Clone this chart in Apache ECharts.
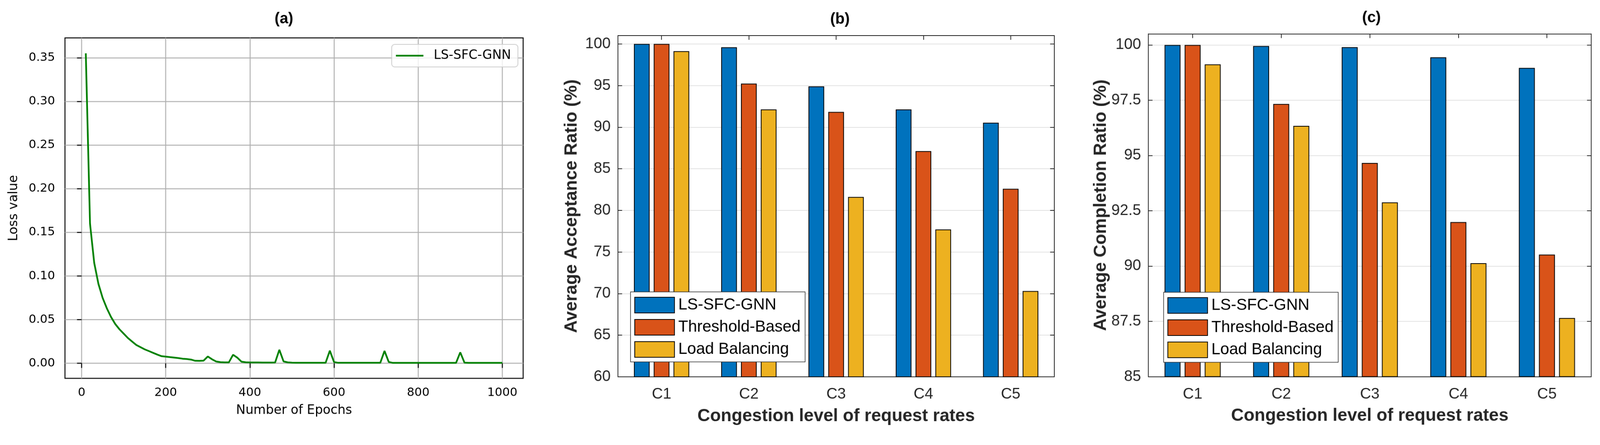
<!DOCTYPE html>
<html>
<head>
<meta charset="utf-8">
<script src="https://cdn.jsdelivr.net/npm/echarts@6/dist/echarts.min.js"></script>
<style>
html,body{margin:0;padding:0;background:#fff;overflow:hidden;}
#chart{width:4187px;height:1138px;transform-origin:0 0;}
</style>
</head>
<body>
<div id="chart"></div>
<script>
// ---------- Panel (a): training loss ----------
const epochs = [10,20,30,40,50,60,70,80,90,100,110,120,130,140,150,160,170,180,190,200,
  210,220,230,240,250,260,270,280,290,300,310,320,330,340,350,360,370,380,390,400,
  410,420,430,440,450,460,470,480,490,500,510,520,530,540,550,560,570,580,590,600,
  610,620,630,640,650,660,670,680,690,700,710,720,730,740,750,760,770,780,790,800,
  810,820,830,840,850,860,870,880,890,900,910,920,930,940,950,960,970,980,990,1000];
const lossValues = [0.355,0.160,0.115,0.091,0.075,0.063,0.053,0.045,0.039,0.034,
  0.029,0.025,0.021,0.0185,0.016,0.014,0.012,0.010,0.0082,0.0077,
  0.0071,0.0066,0.0060,0.0053,0.0049,0.0043,0.0029,0.0028,0.0031,0.0078,
  0.0046,0.0021,0.0013,0.0011,0.0011,0.0098,0.0065,0.0019,0.0012,0.0010,
  0.0010,0.0010,0.0009,0.0009,0.0009,0.0010,0.0155,0.0022,0.0011,0.0008,
  0.0007,0.0007,0.0007,0.0007,0.0007,0.0007,0.0007,0.0007,0.0145,0.0014,
  0.0006,0.0006,0.0006,0.0006,0.0006,0.0006,0.0006,0.0006,0.0006,0.0006,
  0.0006,0.0142,0.0016,0.0005,0.0005,0.0005,0.0005,0.0005,0.0005,0.0005,
  0.0005,0.0005,0.0005,0.0005,0.0005,0.0005,0.0005,0.0005,0.0005,0.0126,
  0.0008,0.0005,0.0005,0.0005,0.0005,0.0005,0.0005,0.0005,0.0005,0.0005];
const lossTicksX = [0,200,400,600,800,1000];
const lossTicksY = [0,0.05,0.10,0.15,0.20,0.25,0.30,0.35];

// ---------- Panels (b) and (c): bar charts ----------
const categories = ['C1','C2','C3','C4','C5'];
const seriesNames = ['LS-SFC-GNN','Threshold-Based','Load Balancing'];
const acceptLS = [100, 99.6, 94.9, 92.13, 90.53];
const acceptTB = [100, 95.23, 91.83, 87.12, 82.59];
const acceptLB = [99.13, 92.13, 81.62, 77.71, 70.31];
const completeLS = [100, 99.95, 99.9, 99.44, 98.96];
const completeTB = [100, 97.33, 94.66, 91.99, 90.52];
const completeLB = [99.12, 96.34, 92.88, 90.13, 87.65];
const barColors = ['#0072BD','#D95319','#EDB120'];

const MAT = "'Liberation Sans', Arial, Helvetica, sans-serif";
const MPL = "'DejaVu Sans', sans-serif";
const AX = '#262626';

// fit the 4187x1138 drawing into the viewport if the viewport is smaller
(function fit(){
  const el = document.getElementById('chart');
  const s = Math.min(1, (window.innerWidth || 4187) / 4187, (window.innerHeight || 1138) / 1138);
  if (s < 1) el.style.transform = 'scale(' + s + ')';
})();

const chart = echarts.init(document.getElementById('chart'), null, {renderer:'canvas', width:4187, height:1138});

function barXAxis(grid, top, name) {
  return {
    type:'category', gridIndex:grid, data:categories, position: top ? 'top' : 'bottom',
    boundaryGap:true,
    axisLine:{show:true, lineStyle:{color:AX, width:2}},
    axisTick:{show:true, inside:true, length:11, alignWithLabel:true, lineStyle:{color:AX, width:2}},
    axisLabel:{show:!top, fontFamily:MAT, fontSize:40, color:AX, margin:26},
    splitLine:{show:false},
    name: top ? '' : name, nameLocation:'middle', nameGap:80,
    nameTextStyle:{fontFamily:MAT, fontSize:46, fontWeight:'bold', color:AX}
  };
}
function barYAxis(grid, right, min, max, interval, name) {
  return {
    type:'value', gridIndex:grid, position: right ? 'right' : 'left',
    min:min, max:max, interval:interval,
    axisLine:{show:true, lineStyle:{color:AX, width:2}},
    axisTick:{show:true, inside:true, length:11, lineStyle:{color:AX, width:2}},
    axisLabel:{show:!right, fontFamily:MAT, fontSize:40, color:AX, margin:19, showMaxLabel:false,
      formatter: v => String(v)},
    splitLine:{show:!right, lineStyle:{color:'#e2e2e2', width:2}},
    name: right ? '' : name, nameLocation:'middle', nameGap:98, nameRotate:90,
    nameTextStyle:{fontFamily:MAT, fontSize:46, fontWeight:'bold', color:AX}
  };
}
function barSeries(name, idx, xi, yi, values) {
  return {
    type:'bar', name:name, xAxisIndex:xi, yAxisIndex:yi, data:values,
    barWidth:'18%', barGap:'26%', clip:true,
    itemStyle:{color:barColors[idx], borderColor:'#000', borderWidth:2}
  };
}
function barLegend(left, top) {
  return {
    data:seriesNames, left:left, top:top, orient:'vertical', icon:'rect',
    itemWidth:104, itemHeight:41, itemGap:15, selectedMode:false,
    itemStyle:{borderColor:'#000', borderWidth:2},
    textStyle:{fontFamily:MAT, fontSize:42, color:'#000', padding:[0,0,0,5]},
    padding:[13,12,11,10], borderColor:AX, borderWidth:1.5, backgroundColor:'#fff'
  };
}

const option = {
  animation:false,
  backgroundColor:'#fff',
  grid:[
    {left:170, top:99, width:1199, height:890, containLabel:false, outerBoundsMode:'none',
     show:true, borderColor:'#000', borderWidth:2.5, backgroundColor:'transparent'},
    {left:1617, top:93, width:1142, height:892, containLabel:false, outerBoundsMode:'none'},
    {left:3005, top:88.5, width:1159, height:896, containLabel:false, outerBoundsMode:'none'}
  ],
  xAxis:[
    {
      type:'value', gridIndex:0, min:-39.5, max:1049.5, splitNumber:5,
      axisLine:{show:false},
      axisTick:{show:true, inside:false, length:12, lineStyle:{color:'#000', width:2.5}, customValues:lossTicksX},
      axisLabel:{customValues:lossTicksX, fontFamily:MPL, fontSize:31, color:'#000', margin:22,
        formatter: v => String(v)},
      splitLine:{show:true, lineStyle:{color:'#b0b0b0', width:2.5}},
      name:'Number of Epochs', nameLocation:'middle', nameGap:68,
      nameTextStyle:{fontFamily:MPL, fontSize:33, color:'#000'}
    },
    barXAxis(1, false, 'Congestion level of request rates'),
    barXAxis(1, true, ''),
    barXAxis(2, false, 'Congestion level of request rates'),
    barXAxis(2, true, '')
  ],
  yAxis:[
    {
      type:'value', gridIndex:0, min:-0.0172, max:0.3727, splitNumber:8,
      axisLine:{show:false},
      axisTick:{show:true, inside:false, length:12, lineStyle:{color:'#000', width:2.5}, customValues:lossTicksY},
      axisLabel:{customValues:lossTicksY, fontFamily:MPL, fontSize:31, color:'#000', margin:26,
        formatter: v => v.toFixed(2)},
      splitLine:{show:true, lineStyle:{color:'#b0b0b0', width:2.5}},
      name:'Loss value', nameLocation:'middle', nameGap:117, nameRotate:90,
      nameTextStyle:{fontFamily:MPL, fontSize:33, color:'#000'}
    },
    barYAxis(1, false, 60, 101, 5, 'Average Acceptance Ratio (%)'),
    barYAxis(1, true, 60, 101, 5, ''),
    barYAxis(2, false, 85, 100.5, 2.5, 'Average Completion Ratio (%)'),
    barYAxis(2, true, 85, 100.5, 2.5, '')
  ],
  legend:[
    barLegend(1650, 763),
    barLegend(3045, 764),
    {
      data:['LS-SFC-GNN'], left:1025, top:116, orient:'vertical', icon:'rect',
      itemWidth:72, itemHeight:4.5, selectedMode:false,
      itemStyle:{color:'#008000', borderWidth:0},
      textStyle:{fontFamily:MPL, fontSize:33, color:'#000', padding:[0,0,0,22]},
      padding:[13,18,13,11], borderColor:'#cccccc', borderWidth:2, borderRadius:8,
      backgroundColor:'rgba(255,255,255,0.8)'
    }
  ],
  graphic:[
    {type:'text', x:743, y:50, style:{text:'(a)', font:"bold 40px "+MAT, fill:'#000', textAlign:'center', textVerticalAlign:'middle'}},
    {type:'text', x:2198, y:51, style:{text:'(b)', font:"bold 40px "+MAT, fill:'#000', textAlign:'center', textVerticalAlign:'middle'}},
    {type:'text', x:3589, y:47, style:{text:'(c)', font:"bold 40px "+MAT, fill:'#000', textAlign:'center', textVerticalAlign:'middle'}}
  ],
  series:[
    barSeries(seriesNames[0], 0, 1, 1, acceptLS),
    barSeries(seriesNames[1], 1, 1, 1, acceptTB),
    barSeries(seriesNames[2], 2, 1, 1, acceptLB),
    barSeries(seriesNames[0], 0, 3, 3, completeLS),
    barSeries(seriesNames[1], 1, 3, 3, completeTB),
    barSeries(seriesNames[2], 2, 3, 3, completeLB),
    {
      type:'line', name:'LS-SFC-GNN', xAxisIndex:0, yAxisIndex:0,
      data: epochs.map((e, i) => [e, lossValues[i]]),
      showSymbol:false, symbol:'none', smooth:false,
      lineStyle:{color:'#008000', width:4.5}, itemStyle:{color:'#008000'}
    }
  ]
};
chart.setOption(option);
</script>
</body>
</html>
